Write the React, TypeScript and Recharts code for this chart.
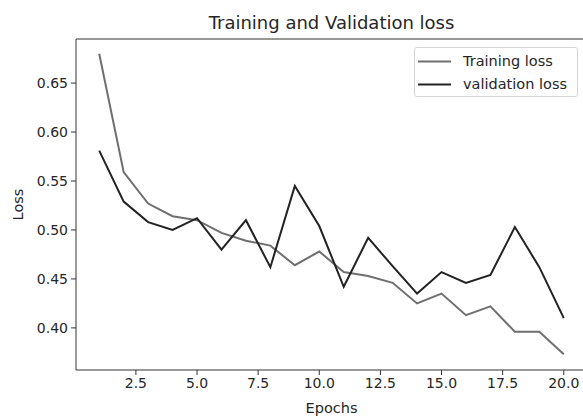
import { LineChart, Line, XAxis, YAxis, Legend, Label, ReferenceLine } from "recharts";

const epochs = [1, 2, 3, 4, 5, 6, 7, 8, 9, 10, 11, 12, 13, 14, 15, 16, 17, 18, 19, 20];
const trainingLoss = [
  0.68, 0.559, 0.527, 0.514, 0.51, 0.497, 0.489, 0.484, 0.464, 0.478,
  0.457, 0.453, 0.446, 0.425, 0.435, 0.413, 0.422, 0.396, 0.396, 0.373,
];
const validationLoss = [
  0.581, 0.529, 0.508, 0.5, 0.512, 0.48, 0.51, 0.462, 0.545, 0.504,
  0.442, 0.492, 0.463, 0.435, 0.457, 0.446, 0.454, 0.503, 0.462, 0.41,
];
const xTicks = [2.5, 5, 7.5, 10, 12.5, 15, 17.5, 20];
const yTicks = [0.4, 0.45, 0.5, 0.55, 0.6, 0.65];
const yDomain = [0.357, 0.695];

const data = epochs.map((e, i) => ({
  epoch: e,
  training: trainingLoss[i],
  validation: validationLoss[i],
}));

const FONT = "'DejaVu Sans', sans-serif";
const TEXT = "#262626";
const SPINE = "#333";

// legend drawn like matplotlib's boxed legend
const renderLegend = (props: any) => {
  const payload = props.payload || [];
  return (
    <div
      style={{
        position: "relative",
        width: 164,
        height: 50,
        boxSizing: "border-box",
        border: "1px solid #d5d5d5",
        borderRadius: 3,
        background: "rgba(255,255,255,0.8)",
        fontFamily: FONT,
        fontSize: 14.5,
        color: TEXT,
      }}
    >
      {payload.map((p: any, i: number) => (
        <div key={p.value} style={{ position: "absolute", left: 0, top: 2 + i * 23, height: 23, display: "flex", alignItems: "center" }}>
          <svg width={40} height={23} style={{ display: "block" }}>
            <line x1={3} x2={36} y1={11.5} y2={11.5} stroke={p.color} strokeWidth={2} />
          </svg>
          <span style={{ marginLeft: 8, whiteSpace: "nowrap", lineHeight: "23px" }}>{p.value}</span>
        </div>
      ))}
    </div>
  );
};

export default function App() {
  return (
    <div style={{ position: "absolute", left: 0, top: 0, width: 583, height: 417, overflow: "hidden", background: "#fff" }}>
      <LineChart
        width={600}
        height={417}
        data={data}
        margin={{ top: 39, right: 13, bottom: 0, left: 0 }}
        style={{ fontFamily: FONT }}
      >
        <XAxis
          dataKey="epoch"
          type="number"
          domain={[0.05, 20.95]}
          ticks={xTicks}
          tickFormatter={(v: number) => v.toFixed(1)}
          allowDataOverflow
          height={47}
          tickSize={5}
          tickMargin={3}
          stroke={SPINE}
          tick={{ fill: TEXT, fontSize: 14 }}
        >
          <Label
            content={(p: any) => {
              const vb = p.viewBox;
              return (
                <text x={vb.x + vb.width / 2} y={vb.y + 43} textAnchor="middle" fill={TEXT} fontSize={14.5}>
                  Epochs
                </text>
              );
            }}
          />
        </XAxis>
        <YAxis
          type="number"
          domain={yDomain}
          ticks={yTicks}
          tickFormatter={(v: number) => v.toFixed(2)}
          allowDataOverflow
          width={76}
          tickSize={5}
          tickMargin={3}
          stroke={SPINE}
          tick={{ fill: TEXT, fontSize: 14 }}
        >
          <Label
            content={(p: any) => {
              const vb = p.viewBox;
              const cx = 22.5;
              const cy = vb.y + vb.height / 2;
              return (
                <text x={cx} y={cy} textAnchor="middle" fill={TEXT} fontSize={14.5} transform={`rotate(-90, ${cx}, ${cy})`}>
                  Loss
                </text>
              );
            }}
          />
        </YAxis>
        {/* top spine + title */}
        <ReferenceLine y={yDomain[1]} stroke={SPINE} strokeWidth={1} ifOverflow="visible">
          <Label
            content={(p: any) => {
              const vb = p.viewBox;
              return (
                <text x={vb.x + vb.width / 2} y={vb.y - 10} textAnchor="middle" fill={TEXT} fontSize={18}>
                  Training and Validation loss
                </text>
              );
            }}
          />
        </ReferenceLine>
        <Legend
          layout="vertical"
          align="center"
          verticalAlign="middle"
          content={renderLegend}
          wrapperStyle={{ position: "absolute", left: 414, top: 47, width: 164, height: 50 }}
        />
        <Line
          type="linear"
          dataKey="training"
          name="Training loss"
          stroke="#6f6f6f"
          strokeWidth={2}
          dot={false}
          isAnimationActive={false}
        />
        <Line
          type="linear"
          dataKey="validation"
          name="validation loss"
          stroke="#222"
          strokeWidth={2}
          dot={false}
          isAnimationActive={false}
        />
      </LineChart>
    </div>
  );
}
